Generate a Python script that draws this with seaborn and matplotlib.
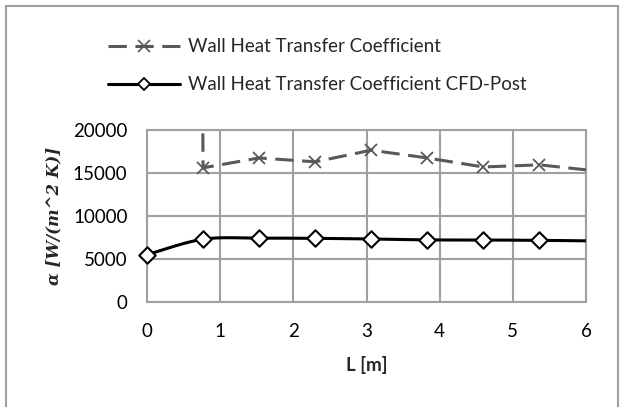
import numpy as np
import pandas as pd
import matplotlib
matplotlib.use("Agg")
import matplotlib.pyplot as plt
from matplotlib.lines import Line2D
from matplotlib.patches import Rectangle
import seaborn as sns

# Positions along the wall [m]
length_m = [0.0, 0.766, 1.532, 2.298, 3.064, 3.830, 4.596, 5.362, 6.128]
# Heat transfer coefficient from the correlation [W/(m^2 K)]
htc_wall = [1.2e6, 15600, 16750, 16300, 17650, 16750, 15700, 15950, 15250]
# Heat transfer coefficient exported from CFD-Post [W/(m^2 K)]
htc_cfd = [5500, 7300, 7420, 7400, 7330, 7220, 7210, 7170, 7100]

x_ticks = [0, 1, 2, 3, 4, 5, 6]
y_ticks = [0, 5000, 10000, 15000, 20000]

label_wall = "Wall Heat Transfer Coefficient"
label_cfd = "Wall Heat Transfer Coefficient CFD-Post"
x_label = "L [m]"
y_label = "α [W/(m^2 K)]"


def smooth_curve(xs, ys, n=40):
    """Bezier smoothing through every point (Catmull-Rom style tangents)."""
    p = np.column_stack([xs, ys]).astype(float)
    ext = np.vstack([p[0], p, p[-1]])
    t = np.linspace(0, 1, n)[:, None]
    out = []
    for i in range(len(p) - 1):
        p0, p1, p2, p3 = ext[i], ext[i + 1], ext[i + 2], ext[i + 3]
        b1 = p1 + (p2 - p0) / 6.0
        b2 = p2 - (p3 - p1) / 6.0
        seg = ((1 - t) ** 3) * p1 + 3 * ((1 - t) ** 2) * t * b1 \
            + 3 * (1 - t) * t ** 2 * b2 + t ** 3 * p2
        out.append(seg if i == 0 else seg[1:])
    c = np.vstack(out)
    return c[:, 0], c[:, 1]


sns.set_style("white")
plt.rcParams["font.family"] = ["Lato", "DejaVu Sans"]

W, H = 623, 407
fig = plt.figure(figsize=(W / 100, H / 100), dpi=100)
ax = fig.add_axes([147 / W, (H - 302) / H, 439 / W, 172 / H])

grid_c = "#a0a0a0"
dash_c = "#595959"
dash_pat = (0, (6.0, 2.8))

df_wall = pd.DataFrame({"L": length_m, "alpha": htc_wall})
df_cfd = pd.DataFrame({"L": length_m, "alpha": htc_cfd})
sx, sy = smooth_curve(length_m, htc_cfd)
df_cfd_smooth = pd.DataFrame({"L": sx, "alpha": sy})

# correlation series: dashed straight segments with x markers
sns.lineplot(data=df_wall, x="L", y="alpha", ax=ax, sort=False,
             color=dash_c, lw=2.2, linestyle=dash_pat,
             marker="x", markersize=9, markeredgewidth=1.3,
             markeredgecolor=dash_c, zorder=3)

# CFD-Post series: smoothed solid line with open diamonds
sns.lineplot(data=df_cfd_smooth, x="L", y="alpha", ax=ax, sort=False,
             color="black", lw=2.2, zorder=4)
sns.scatterplot(data=df_cfd[df_cfd["L"] <= 6], x="L", y="alpha", ax=ax,
                marker="D", s=70, facecolor="white", edgecolor="black",
                linewidth=1.5, zorder=5, clip_on=False)

ax.set_xlim(0, 6)
ax.set_ylim(0, 20000)
ax.set_xticks(x_ticks)
ax.set_yticks(y_ticks)
ax.set_xticklabels([str(v) for v in x_ticks])
ax.set_yticklabels([str(v) for v in y_ticks])
ax.grid(True, color=grid_c, lw=1.5)
ax.set_axisbelow(True)
for s in ax.spines.values():
    s.set_color(grid_c)
    s.set_linewidth(1.5)
ax.tick_params(axis="both", length=0, labelsize=13.5, colors="black")
ax.tick_params(axis="x", pad=15)
ax.tick_params(axis="y", pad=14)

ax.set_xlabel(x_label, fontsize=13.5, fontweight="bold")
ax.xaxis.label.set_va("center")
ax.xaxis.set_label_coords(0.5, (302 - 365) / 172)

ax.set_ylabel(y_label, fontsize=12, fontweight="bold", fontstyle="italic",
              family=["DejaVu Serif"])
ax.yaxis.label.set_va("center")
ax.yaxis.set_label_coords((54 - 147) / 439, 0.5)

handles = [
    Line2D([], [], color=dash_c, lw=2.2, linestyle=dash_pat,
           marker="x", markersize=8, markeredgewidth=1.2),
    Line2D([], [], color="black", lw=2.2, marker="D", markersize=6,
           markerfacecolor="white", markeredgecolor="black", markeredgewidth=1.3),
]
fig.legend(handles, [label_wall, label_cfd], loc="upper left",
           bbox_to_anchor=(101 / W, 1 - 31 / H), frameon=False,
           fontsize=13.5, handlelength=3.8, handletextpad=0.45,
           labelspacing=1.1, borderaxespad=0)

# chart frame
fig.add_artist(Rectangle((6 / W, -0.05), 612 / W, 1.05 - 6 / H,
                         transform=fig.transFigure, fill=False,
                         edgecolor="#a0a0a0", lw=1.5, clip_on=False))

fig.savefig("out.png", dpi=100)
